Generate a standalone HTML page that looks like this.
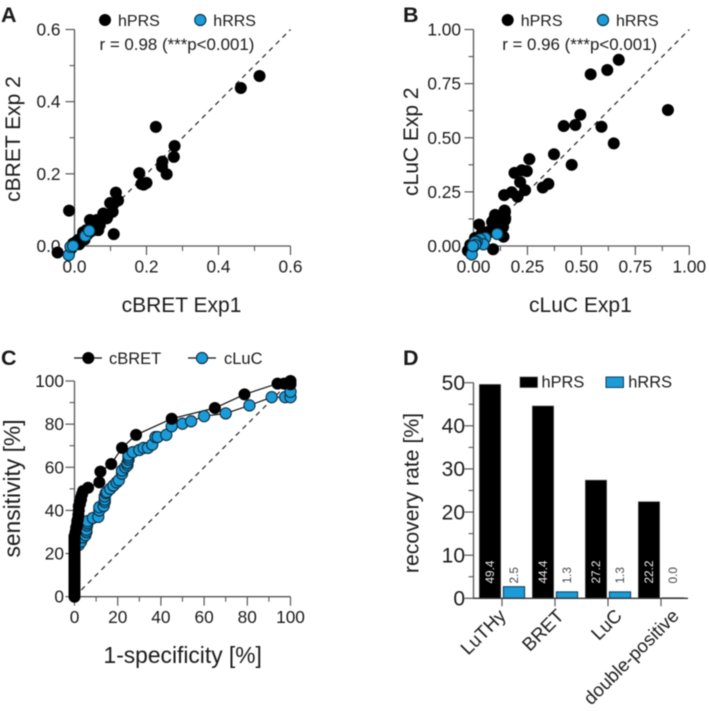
<!DOCTYPE html>
<html>
<head>
<meta charset="utf-8">
<style>
html,body{margin:0;padding:0;background:#fff;width:709px;height:711px;overflow:hidden}
svg{display:block;filter:blur(.45px)}
text{font-family:"Liberation Sans",Arial,sans-serif;fill:#1a1a1a}
</style>
</head>
<body>
<svg id="fig" xmlns="http://www.w3.org/2000/svg" width="709" height="711" viewBox="0 0 709 711"></svg>
<script>
// Panel A
const panelATicks = ['0.0', '0.2', '0.4', '0.6'];
const panelAPrsPoints = [[.514,.471],[.462,.438],[.226,.33],[.278,.277],[.276,.247],[.244,.234],[.243,.22],[.256,.199],[.18,.202],[.186,.172],[.2,.175],[.192,.17],[.115,.148],[.121,.126],[.108,.116],[.106,.095],[.099,.119],[.09,.077],[.082,.089],[.08,.09],[.075,.072],[-.015,.098],[.109,.033],[-.047,-.018],[.043,.072],[.066,.044],[.07,.058],[.062,.072],[.057,.063],[.052,.05],[.033,.044],[.034,.03],[.024,.038],[.024,.035],[.01,.017],[-.004,.007],[-.008,-.006],[.015,.012],[.07,.058],[.052,.044],[.038,.035],[.02,.021],[.005,.012],[.092,.083],[.06,.05],[.045,.04],[.013,.005],[.028,.018]];
const panelARrsPoints = [[-.016,-.025],[-.011,-.002],[.03,.028],[.041,.042],[-.004,0]];
// Panel B
const panelBTicks = ['0.00', '0.25', '0.50', '0.75', '1.00'];
const panelBPrsPoints = [[.673,.86],[.62,.813],[.543,.793],[.901,.628],[.495,.606],[.418,.554],[.472,.559],[.593,.551],[.65,.474],[.373,.424],[.455,.375],[.259,.401],[.247,.346],[.224,.35],[.19,.338],[.216,.295],[.239,.258],[.204,.228],[.177,.248],[.142,.235],[.347,.287],[.321,.27],[.144,.164],[.147,.128],[.1,.144],[.093,.12],[.123,.105],[.026,.099],[.139,.043],[.091,-.015],[-.026,-.022],[.069,.066],[.039,.059],[.008,.035],[.116,.136],[-.015,.005],[-.005,-.01],[.055,.05],[.02,.04],[.125,.09],[.146,.157],[.146,.12],[.115,.106],[.086,.111],[.137,.088],[.067,.06],[.05,.06],[.03,.045],[.09,.075],[.007,.037],[.1,.134]];
const panelBRrsPoints = [[-.008,-.039],[.11,.056],[.054,.037],[.031,.031],[.046,.008],[.015,.02],[.007,.018],[.008,.005],[-.003,0]];
// Panel C
const panelCTicks = ['0', '20', '40', '60', '80', '100'];
const rocCbretPoints = [[0,0],[0,1],[0,2],[0,3],[0,4],[0,5],[0,6],[0,7],[0,8],[0,9],[0,10],[0,11],[0,12],[0,13],[0,14],[0,15],[0,16],[0,17],[0,18],[0,19],[0,20],[0,21],[0,22],[0,23],[0,24],[0,25],[0,26],[0,27],[0,28],[.5,30],[.8,32],[1.2,33.5],[1.3,35],[1.6,36],[1.8,38],[2,40],[2,42],[2.5,43],[2.5,44],[3,45],[3,46],[3.5,47.5],[4,49],[6.3,50.5],[11.5,53],[12,58],[17,61.5],[22,69],[28.5,75],[45,82.5],[65,87.5],[78.7,93.8],[94,98.8],[97,98.8],[100,98.5],[100,100]];
const rocClucPoints = [[2,24],[3,25.5],[4,27.5],[5,28.5],[5.5,30],[5.5,31],[5.8,33],[6,34],[6,35],[8.5,36.5],[11,37],[11.5,40],[11.5,41.5],[13.5,42],[14,44],[14,45],[14,46.5],[14.5,48],[15,48.5],[16.5,50],[18,51.5],[19.5,53],[20.5,54],[22,57],[22,58.5],[23.5,60],[24.5,61],[24.5,62],[25,63.5],[25,64.5],[25,65.5],[27,67],[30,68],[32,69],[34,69],[36,70.5],[37.5,74],[38.5,74],[42.5,75],[45,79],[50,80.2],[54,81.3],[60,83.7],[70,85],[81,88.7],[91.3,92.5],[97.5,92.5],[100,92.5],[100,95]];
// Panel D
const barCategories = ['LuTHy', 'BRET', 'LuC', 'double-positive'];
const barPrsValues = [49.6, 44.6, 27.4, 22.4];
const barRrsValues = [2.7, 1.5, 1.5, 0.1];
const barPrsLabels = ['49.4', '44.4', '27.2', '22.2'];
const barRrsLabels = ['2.5', '1.3', '1.3', '0.0'];
const barTicks = ['0', '10', '20', '30', '40', '50'];

const NS = 'http://www.w3.org/2000/svg';
const fig = document.getElementById('fig');
const BLUE = '#1b9cd8';
const AXIS = '#555';

function make(tag, attrs, parent) {
  const el = document.createElementNS(NS, tag);
  for (const k in attrs) el.setAttribute(k, attrs[k]);
  (parent || fig).appendChild(el);
  return el;
}
function label(str, x, y, size, opts, parent) {
  const o = opts || {};
  const el = make('text', {x: x, y: y, 'font-size': size, 'text-anchor': o.anchor || 'start'}, parent);
  if (o.rotate !== undefined) el.setAttribute('transform', 'rotate(' + o.rotate + ' ' + x + ' ' + y + ')');
  if (o.weight) el.setAttribute('font-weight', o.weight);
  if (o.fill) el.style.fill = o.fill;
  el.textContent = str;
  return el;
}
function linear(d0, d1, r0, r1) {
  return v => r0 + (v - d0) / (d1 - d0) * (r1 - r0);
}
function drawAxes(g, name, sx, sy, xLo, xHi, yLo, yHi, xVals, yVals, xStrs, yStrs, xMinor, yMinor, labelSize, labelGap) {
  const axX = sx(xLo), axY = sy(yLo);
  const yAxis = make('line', {x1: axX, x2: axX, y1: sy(yHi), y2: axY, stroke: AXIS, 'stroke-width': 1.3}, g);
  
  
  const xAxis = make('line', {x1: axX, x2: sx(xHi), y1: axY, y2: axY, stroke: AXIS, 'stroke-width': 1.3}, g);
  
  
  xVals.forEach((v, i) => {
    make('line', {x1: sx(v), x2: sx(v), y1: axY, y2: axY + 9, stroke: AXIS, 'stroke-width': 1.2}, g);
    const t = label(xStrs[i], sx(v), axY + 26.5, labelSize, {anchor: 'middle'}, g);
    
    
  });
  yVals.forEach((v, i) => {
    make('line', {x1: axX - 9, x2: axX, y1: sy(v), y2: sy(v), stroke: AXIS, 'stroke-width': 1.2}, g);
    const t = label(yStrs[i], axX - labelGap, sy(v) + 6, labelSize, {anchor: 'end'}, g);
    
    
  });
  xMinor.forEach(v => make('line', {x1: sx(v), x2: sx(v), y1: axY, y2: axY + 5, stroke: AXIS, 'stroke-width': 1.1}, g));
  yMinor.forEach(v => make('line', {x1: axX - 5, x2: axX, y1: sy(v), y2: sy(v), stroke: AXIS, 'stroke-width': 1.1}, g));
}
function dot(parent, x, y, blue) {
  return make('circle', blue
    ? {cx: x, cy: y, r: 5.6, fill: BLUE, stroke: '#0c2c40', 'stroke-width': 1.1}
    : {cx: x, cy: y, r: 6, fill: '#000'}, parent);
}
function scatter(name, letter, letterX, x0, x1, ticks, prs, rrs, xTitle, yTitle, yTitleX, yTitleY, rText, legend, labelGap) {
  const g = make('g', {});
  
  
  const hi = parseFloat(ticks[ticks.length - 1]);
  const sx = linear(0, hi, x0, x1);
  const sy = linear(0, hi, 246, 29.5);
  const vals = ticks.map(parseFloat);
  const minor = vals.slice(1).map((v, i) => (v + vals[i]) / 2);
  const l = label(letter, letterX, 22, 21.5, {weight: 'bold'}, g);
  
  
  drawAxes(g, 'panel-' + name, sx, sy, 0, hi, 0, hi, vals, vals, ticks, ticks, minor, minor, 17.3, labelGap);
  const diag = make('line', {x1: sx(0), y1: sy(0), x2: sx(hi), y2: sy(hi), stroke: '#222', 'stroke-width': 1.2, 'stroke-dasharray': '5 4.5'}, g);
  
  
  prs.forEach(p => {
    const c = dot(g, sx(p[0]), sy(p[1]), false);
    
    
  });
  rrs.forEach(p => {
    const c = dot(g, sx(p[0]), sy(p[1]), true);
    
    
  });
  const lg1 = dot(g, legend[0], 20, false);
  
  
  const lt1 = label('hPRS', legend[0] + 13, 26, 16, {}, g);
  
  
  const lg2 = dot(g, legend[1], 20, true);
  
  
  const lt2 = label('hRRS', legend[1] + 13, 26, 16, {}, g);
  
  
  const rt = label(rText, legend[0] - 5.5, 50, 16.9, {}, g);
  
  
  const xt = label(xTitle, (x0 + x1) / 2 - 1, 312, 21, {anchor: 'middle'}, g);
  
  
  const yt = label(yTitle, yTitleX, yTitleY, 21, {anchor: 'middle', rotate: -90}, g);
  
  
}

scatter('a', 'A', 1, 74.5, 290.5, panelATicks, panelAPrsPoints, panelARrsPoints, 'cBRET Exp1', 'cBRET Exp 2', 20, 139, 'r = 0.98 (***p<0.001)', [105, 200.3], 14);
scatter('b', 'B', 403, 473.5, 689.3, panelBTicks, panelBPrsPoints, panelBRrsPoints, 'cLuC Exp1', 'cLuC Exp 2', 418, 141.7, 'r = 0.96 (***p<0.001)', [507.7, 603], 12.5);

// Panel C
(function () {
  const g = make('g', {});
  
  
  const sx = linear(0, 100, 74.5, 290.5);
  const sy = linear(0, 100, 596.7, 381);
  const vals = panelCTicks.map(Number);
  const minor = vals.slice(1).map((v, i) => (v + vals[i]) / 2);
  const l = label('C', 1, 365, 21.5, {weight: 'bold'}, g);
  
  
  drawAxes(g, 'panel-c', sx, sy, 0, 100, 0, 100, vals, vals, panelCTicks, panelCTicks, minor, minor, 17.3, 10.5);
  const diag = make('line', {x1: sx(0), y1: sy(0), x2: sx(100), y2: sy(100), stroke: '#222', 'stroke-width': 1.2, 'stroke-dasharray': '5 4.5'}, g);
  
  
  const toPts = arr => arr.map(p => sx(p[0]).toFixed(1) + ',' + sy(p[1]).toFixed(1)).join(' ');
  const lineLuc = make('polyline', {points: toPts(rocClucPoints), fill: 'none', stroke: '#111', 'stroke-width': 1.2}, g);
  
  
  const lineBret = make('polyline', {points: toPts(rocCbretPoints), fill: 'none', stroke: '#111', 'stroke-width': 1.2}, g);
  
  
  rocClucPoints.forEach(p => {
    const c = dot(g, sx(p[0]), sy(p[1]), true);
    
    
  });
  rocCbretPoints.forEach(p => {
    const c = dot(g, sx(p[0]), sy(p[1]), false);
    
    
  });
  const l1 = make('line', {x1: 74, x2: 102, y1: 358, y2: 358, stroke: '#111', 'stroke-width': 1.2}, g);
  
  
  const d1 = dot(g, 88.3, 358, false);
  
  
  const t1 = label('cBRET', 109, 364, 16.5, {}, g);
  
  
  const l2 = make('line', {x1: 188, x2: 216, y1: 358, y2: 358, stroke: '#111', 'stroke-width': 1.2}, g);
  
  
  const d2 = dot(g, 202, 358, true);
  
  
  const t2 = label('cLuC', 224, 364, 16.5, {}, g);
  
  
  const xt = label('1-specificity [%]', 182.7, 663, 22.8, {anchor: 'middle'}, g);
  
  
  const yt = label('sensitivity [%]', 20, 488.5, 22.8, {anchor: 'middle', rotate: -90}, g);
  
  
})();

// Panel D
(function () {
  const g = make('g', {});
  
  
  const sy = linear(0, 50, 598.3, 382.7);
  const band = i => 502 + i * 53;
  const axX = 473.5, axY = sy(0);
  const barW = 21.3;
  const labelShift = i => (i === 0 ? 5 : i === 1 ? 10 : i === 2 ? 15 : 19);
  const l = label('D', 403, 365, 21.5, {weight: 'bold'}, g);
  
  
  barCategories.forEach((cat, i) => {
    const c = band(i);
    const b1 = make('rect', {x: c - 12 - barW / 2, y: sy(barPrsValues[i]), width: barW, height: axY - sy(barPrsValues[i]), fill: '#000', stroke: '#555', 'stroke-width': .6}, g);
    
    
    const b2 = make('rect', {x: c + 12 - barW / 2, y: sy(barRrsValues[i]), width: barW, height: axY - sy(barRrsValues[i]), fill: BLUE, stroke: '#0c2c40', 'stroke-width': .9}, g);
    
    
    const v1 = label(barPrsLabels[i], c - 12 + 4.2, 583.5, 11.8, {rotate: -90, fill: '#eee'}, g);
    
    
    const v2 = label(barRrsLabels[i], c + 12 + 4.2, 583.5, 11.8, {rotate: -90, fill: '#444'}, g);
    
    
    make('line', {x1: c, x2: c, y1: axY, y2: axY + 8, stroke: AXIS, 'stroke-width': 1.2}, g);
    const t = label(cat, c + labelShift(i), 617, 18.7, {anchor: 'end', rotate: -45}, g);
    
    
  });
  const yAxis = make('line', {x1: axX, x2: axX, y1: sy(50), y2: axY, stroke: AXIS, 'stroke-width': 1.3}, g);
  
  
  const xAxis = make('line', {x1: axX, x2: 688, y1: axY, y2: axY, stroke: '#333', 'stroke-width': 1.3}, g);
  
  
  const vals = barTicks.map(Number);
  vals.forEach((v, i) => {
    make('line', {x1: axX - 9, x2: axX, y1: sy(v), y2: sy(v), stroke: AXIS, 'stroke-width': 1.2}, g);
    const t = label(barTicks[i], 465, sy(v) + 7.3, 21, {anchor: 'end'}, g);
    
    
    if (i > 0) make('line', {x1: axX - 5, x2: axX, y1: sy(v - 5), y2: sy(v - 5), stroke: AXIS, 'stroke-width': 1.1}, g);
  });
  const k1 = make('rect', {x: 520, y: 377, width: 17.5, height: 10.5, fill: '#000', stroke: '#444', 'stroke-width': .6}, g);
  
  
  const t1 = label('hPRS', 541.5, 387.5, 16.4, {}, g);
  
  
  const k2 = make('rect', {x: 606, y: 377, width: 17.5, height: 10.5, fill: BLUE, stroke: '#0c2c40', 'stroke-width': .9}, g);
  
  
  const t2 = label('hRRS', 628.3, 387.5, 16.4, {}, g);
  
  
  const yt = label('recovery rate [%]', 418.5, 493, 21.2, {anchor: 'middle', rotate: -90}, g);
  
  
})();
</script>
</body>
</html>
